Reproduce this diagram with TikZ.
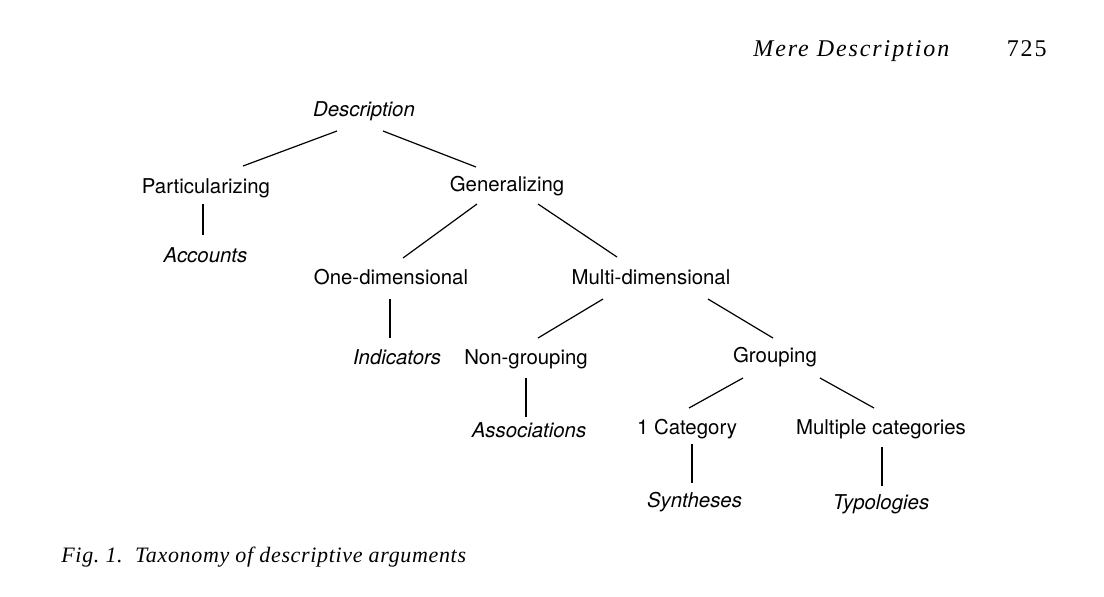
\documentclass[tikz,border=0pt]{standalone}
\usepackage{fontspec}
\setmainfont{TeX Gyre Heros}
\newfontfamily\headfont[LetterSpace=8]{Liberation Serif}
\newfontfamily\captfont[LetterSpace=3]{Liberation Serif}
\usetikzlibrary{calc}

\tikzset{
  cat/.style={anchor=base,inner sep=0pt,font=\fontsize{10.2}{12}\selectfont},
  kind/.style={cat,font=\fontsize{10.2}{12}\selectfont\itshape},
  branch/.style={line width=0.6pt}
}

\begin{document}
\begin{tikzpicture}[x=0.5pt,y=-0.5pt]
  \useasboundingbox (0,0) rectangle (1104,596);
  % running head
  \node[anchor=base west,inner sep=0pt,font=\fontsize{12}{14}\headfont\itshape] (head) at (753,56) {Mere Description};
  \node[anchor=base east,inner sep=0pt,font=\fontsize{12}{14}\headfont] (page) at (1047,56) {725};
  % the taxonomy
  \node[kind] (desc) at (364,116) {Description};
  \node[cat] (part) at (206,193) {Particularizing};
  \node[cat] (gen) at (507,191) {Generalizing};
  \node[kind] (acc) at (205.5,262) {Accounts};
  \node[cat] (one) at (391,284) {One-dimensional};
  \node[cat] (multi) at (651,284) {Multi-dimensional};
  \node[kind] (ind) at (397,364) {Indicators};
  \node[cat] (nong) at (526,364) {Non-grouping};
  \node[cat] (grp) at (775,362) {Grouping};
  \node[kind] (assoc) at (529,437) {Associations};
  \node[cat] (cat1) at (687,434) {1 Category};
  \node[cat] (mult) at (881,434) {Multiple categories};
  \node[kind] (syn) at (694.5,507) {Syntheses};
  \node[kind] (typ) at (881,509) {Typologies};
  % branches
  \draw[branch] ($(desc.base)+(-27,15)$) -- ($(part.base)+(37,-27)$);
  \draw[branch] ($(desc.base)+(19,15)$) -- ($(gen.base)+(-31,-24)$);
  \draw[branch] ($(part.base)+(-3,11)$) -- ($(acc.base)+(-2.5,-27)$);
  \draw[branch] ($(gen.base)+(-30,13)$) -- ($(one.base)+(12,-26)$);
  \draw[branch] ($(gen.base)+(31,13)$) -- ($(multi.base)+(-34,-27)$);
  \draw[branch] ($(one.base)+(-1,15)$) -- ($(ind.base)+(-7,-26)$);
  \draw[branch] ($(multi.base)+(-48,15)$) -- ($(nong.base)+(12,-26)$);
  \draw[branch] ($(multi.base)+(57,15)$) -- ($(grp.base)+(-2,-24)$);
  \draw[branch] ($(nong.base)+(0,14)$) -- ($(assoc.base)+(-3,-20)$);
  \draw[branch] ($(grp.base)+(-32,16)$) -- ($(cat1.base)+(2,-26)$);
  \draw[branch] ($(grp.base)+(45,16)$) -- ($(mult.base)+(-7,-26)$);
  \draw[branch] ($(cat1.base)+(5,10)$) -- ($(syn.base)+(-2.5,-24)$);
  \draw[branch] ($(mult.base)+(1,13)$) -- ($(typ.base)+(1,-23)$);
  % caption
  \node[anchor=base west,inner sep=0pt,font=\fontsize{11}{13}\captfont\itshape] (capt) at (61,562) {Fig.~1.\ \ Taxonomy of descriptive arguments};
\end{tikzpicture}
\end{document}
